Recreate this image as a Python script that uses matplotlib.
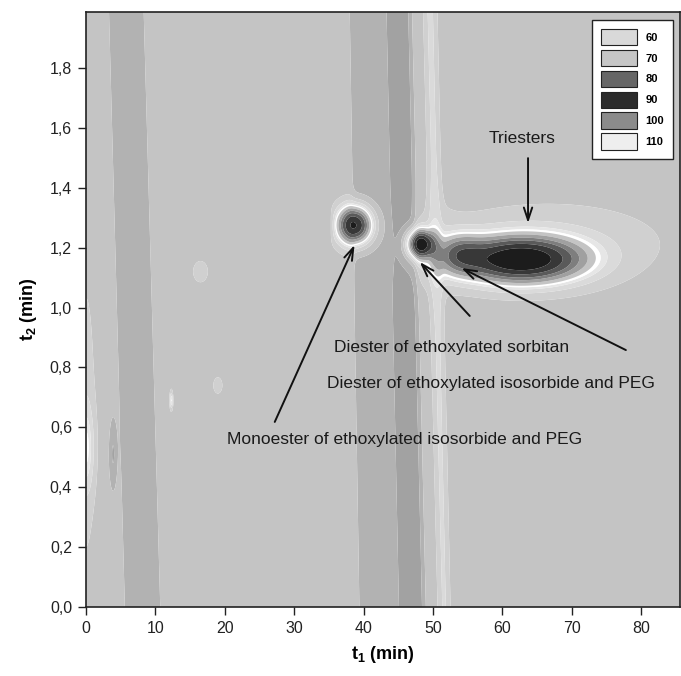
import numpy as np
import matplotlib
matplotlib.use('Agg')
import matplotlib.pyplot as plt
from matplotlib.patches import Patch

plt.rcParams['font.family'] = ['Liberation Sans', 'DejaVu Sans']
plt.rcParams['mathtext.fontset'] = 'custom'
plt.rcParams['mathtext.rm'] = 'Liberation Sans'
plt.rcParams['mathtext.bf'] = 'Liberation Sans:bold'
plt.rcParams['mathtext.it'] = 'Liberation Sans:italic'

# ---------------- data ----------------
# compound peaks (t1 min, t2 min, height, widths)
peak_t1 = [38.7, 48.2, 53.8, 62.6, 35.0]
peak_t2 = [1.275, 1.212, 1.180, 1.160, 1.275]
peak_h = [13.5, 14.0, 5.0, 15.0, -1.3]
peak_s1 = [1.65, 1.25, 2.2, 6.0, 0.5]
peak_s2 = [0.042, 0.031, 0.045, 0.051, 0.035]

# broad low-level halos and small spots
halo_t1 = [67.0, 50.5, 0.0, 0.0, 16.5, 19.0, 12.3, 3.9]
halo_t2 = [1.22, 1.20, 0.62, 0.53, 1.12, 0.74, 0.69, 0.51]
halo_h = [1.3, 0.6, 1.0, 2.6, 1.0, 0.9, 3.4, -1.6]
halo_s1 = [11.0, 2.0, 1.0, 0.8, 0.9, 0.6, 0.15, 0.4]
halo_s2 = [0.09, 0.12, 0.35, 0.10, 0.03, 0.025, 0.02, 0.08]

# vertical column bands (edges at t2 = 0 and t2 = 2)
band_left_bot = [5.6, 39.4, 45.1, 50.9]
band_right_bot = [10.7, 48.7, 48.7, 52.3]
band_left_top = [3.3, 38.0, 43.3, 48.8]
band_right_top = [8.3, 46.7, 46.7, 50.4]
band_level = [-1.0, -1.0, -1.0, 1.8]

# contour levels / legend
levels = [-10, -1.5, -0.5, 0.5, 1.5, 2.5, 3.2, 3.8, 5.0, 6.5, 8.0, 10.0, 12.5, 100]
fill_colors = ['#a2a2a2', '#b2b2b2', '#c4c4c4', '#d0d0d0', '#dadada', '#e6e6e6',
               '#ffffff', '#c4c4c4', '#a0a0a0', '#7e7e7e', '#5a5a5a', '#383838', '#1c1c1c']
legend_labels = ['60', '70', '80', '90', '100', '110']
legend_colors = ['#d9d9d9', '#c6c6c6', '#666666', '#2b2b2b', '#8b8b8b', '#eeeeee']

x_ticks = [0, 10, 20, 30, 40, 50, 60, 70, 80]
y_ticks = [0.0, 0.2, 0.4, 0.6, 0.8, 1.0, 1.2, 1.4, 1.6, 1.8]
y_tick_labels = ['0,0', '0,2', '0,4', '0,6', '0,8', '1,0', '1,2', '1,4', '1,6', '1,8']

labels = ['Triesters', 'Diester of ethoxylated sorbitan',
          'Diester of ethoxylated isosorbide and PEG',
          'Monoester of ethoxylated isosorbide and PEG']
label_x = [62.9, 35.8, 34.8, 20.3]
label_y = [1.566, 0.868, 0.748, 0.558]
label_ha = ['center', 'left', 'left', 'left']
arrow_tail = [(63.7, 1.499), (55.3, 0.972), (77.8, 0.858), (27.2, 0.618)]
arrow_tip = [(63.7, 1.282), (48.1, 1.152), (54.1, 1.132), (38.7, 1.209)]

XMAX, YMAX = 85.6, 1.987

# ---------------- build the field ----------------
t1 = np.linspace(0, XMAX, 860)
t2 = np.linspace(0, YMAX, 500)
T1, T2 = np.meshgrid(t1, t2)
Z = np.zeros_like(T1)


def sig(v):
    return 1.0 / (1.0 + np.exp(-v))


for lb, rb, lt, rt, lv in zip(band_left_bot, band_right_bot, band_left_top, band_right_top, band_level):
    left = lb + (lt - lb) * T2 / 2.0
    right = rb + (rt - rb) * T2 / 2.0
    Z += lv * (sig((T1 - left) / 0.25) - sig((T1 - right) / 0.25))

for a, b, h, s1, s2 in zip(peak_t1 + halo_t1, peak_t2 + halo_t2, peak_h + halo_h,
                           peak_s1 + halo_s1, peak_s2 + halo_s2):
    Z += h * np.exp(-0.5 * (((T1 - a) / s1) ** 2 + ((T2 - b) / s2) ** 2))

# ---------------- figure ----------------
fig = plt.figure(figsize=(6.81, 6.76), dpi=100)
ax = fig.add_axes([86 / 681, 69 / 676, (680 - 86) / 681, (664 - 69) / 676])
ax.contourf(T1, T2, Z, levels=levels, colors=fill_colors, antialiased=True)
ax.set_xlim(0, XMAX)
ax.set_ylim(0, YMAX)

ax.set_xticks(x_ticks)
ax.set_xticklabels([str(v) for v in x_ticks], fontsize=11.5)
ax.set_yticks(y_ticks)
ax.set_yticklabels(y_tick_labels, fontsize=11.5)
ax.tick_params(direction='out', length=6, width=1, colors='#222222', pad=4)
for sp in ax.spines.values():
    sp.set_linewidth(1.2)
    sp.set_color('#222222')

ax.set_xlabel(r'$\mathbf{t_1}$ (min)', fontsize=13, fontweight='bold', labelpad=6)
ax.set_ylabel(r'$\mathbf{t_2}$ (min)', fontsize=13, fontweight='bold', labelpad=8)

for txt, x, y, ha in zip(labels, label_x, label_y, label_ha):
    ax.text(x, y, txt, ha=ha, va='center', fontsize=12.5, color='#1a1a1a')
for tail, tip in zip(arrow_tail, arrow_tip):
    ax.annotate('', xy=tip, xytext=tail,
                arrowprops=dict(arrowstyle='->,head_length=0.9,head_width=0.3',
                                lw=1.4, color='#111111', shrinkA=0, shrinkB=0))

handles = [Patch(facecolor=c, edgecolor='#222222', linewidth=0.8) for c in legend_colors]
leg = ax.legend(handles, legend_labels, loc='upper right',
                bbox_to_anchor=(673 / 681, 1 - 20 / 676), bbox_transform=fig.transFigure,
                borderaxespad=0, fancybox=False, framealpha=1, edgecolor='#222222',
                handlelength=3.2, handleheight=1.9, labelspacing=0.4, handletextpad=0.8,
                borderpad=0.8, prop={'size': 8, 'weight': 'bold'})
leg.get_frame().set_linewidth(1.0)

fig.savefig('out.png', dpi=100)
